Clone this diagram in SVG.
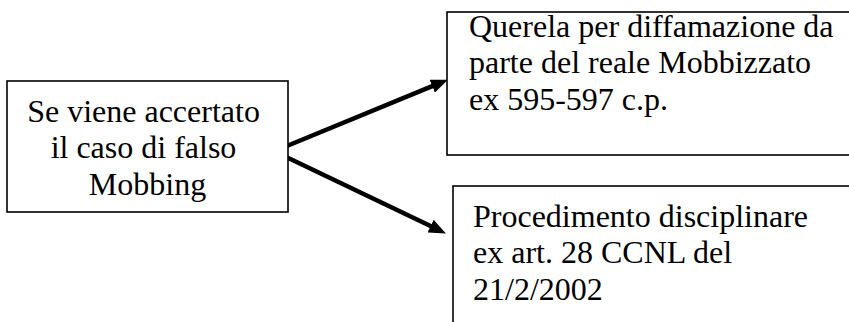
<svg xmlns="http://www.w3.org/2000/svg" width="849" height="322" viewBox="0 0 849 322">
  <style>
    .box { fill: #ffffff; stroke: #000000; stroke-width: 1.6; }
    .txt { font-family: "Liberation Serif", "Times New Roman", serif; font-size: 32px; fill: #000000; }
    .link { stroke: #000000; stroke-width: 4.5; fill: none; marker-end: url(#head); }
  </style>
  <defs>
    <marker id="head" markerUnits="userSpaceOnUse" markerWidth="18" markerHeight="14" refX="4" refY="7" orient="auto">
      <path d="M0,0 L17,7 L0,14 Z" fill="#000000"/>
    </marker>
  </defs>
  <rect width="849" height="322" fill="#ffffff"/>

  <g id="connectors">
    <line class="link" x1="282" y1="148" x2="435.9" y2="84.6"/>
    <line class="link" x1="282" y1="155" x2="434.2" y2="227.8"/>
  </g>

  <g id="node-falso-mobbing">
    <rect class="box" x="7" y="81" width="281" height="131"/>
    <text class="txt" text-anchor="middle">
      <tspan x="147.5" y="121.7">Se viene accertato</tspan>
      <tspan x="147.5" y="158.3">il caso di falso</tspan>
      <tspan x="147.5" y="195">Mobbing</tspan>
    </text>
  </g>

  <g id="node-querela">
    <rect class="box" x="447" y="12" width="410" height="143"/>
    <text class="txt">
      <tspan x="469" y="36.7">Querela per diffamazione da</tspan>
      <tspan x="469" y="73.3">parte del reale Mobbizzato</tspan>
      <tspan x="469" y="110">ex 595-597 c.p.</tspan>
    </text>
  </g>

  <g id="node-procedimento">
    <rect class="box" x="453" y="186" width="410" height="150"/>
    <text class="txt">
      <tspan x="473" y="226.7">Procedimento disciplinare</tspan>
      <tspan x="473" y="263.3">ex art. 28 CCNL del</tspan>
      <tspan x="473" y="300">21/2/2002</tspan>
    </text>
  </g>
</svg>
